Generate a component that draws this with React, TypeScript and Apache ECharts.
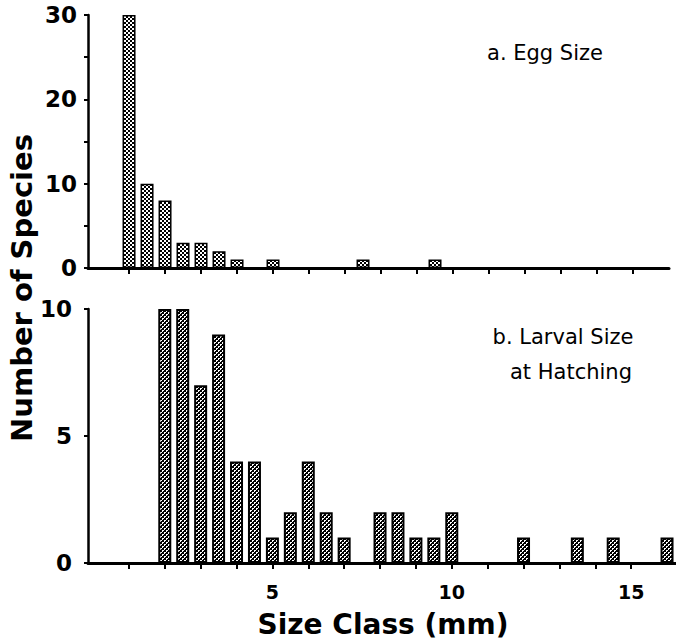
import React, { useEffect, useRef } from "react";
import * as echarts from "echarts";

// Panel a: egg size classes (mm) and number of species
const eggSizes = [1, 1.5, 2, 2.5, 3, 3.5, 4, 5, 7.5, 9.5];
const eggCounts = [30, 10, 8, 3, 3, 2, 1, 1, 1, 1];

// Panel b: larval size at hatching classes (mm) and number of species
const larvalSizes = [2, 2.5, 3, 3.5, 4, 4.5, 5, 5.5, 6, 6.5, 7, 8, 8.5, 9, 9.5, 10, 12, 13.5, 14.5, 16];
const larvalCounts = [10, 10, 7, 9, 4, 4, 1, 2, 4, 2, 1, 2, 2, 1, 1, 2, 1, 1, 1, 1];

// Tick and label values
const xTickValues = [1, 2, 3, 4, 5, 6, 7, 8, 9, 10, 11, 12, 13, 14, 15];
const xLabelValues = [5, 10, 15];
const eggYLabelValues = [0, 10, 20, 30];
const larvalYLabelValues = [0, 5, 10];

const FONT = "DejaVu Sans";

function makePattern(light: boolean): HTMLCanvasElement {
  const c = document.createElement("canvas");
  c.width = 4;
  c.height = 4;
  const ctx = c.getContext("2d")!;
  ctx.fillStyle = "#000";
  ctx.fillRect(0, 0, 4, 4);
  ctx.fillStyle = "#fff";
  if (light) {
    ctx.fillRect(0, 0, 2, 2);
    ctx.fillRect(2, 2, 2, 2);
  } else {
    ctx.fillRect(0, 0, 2, 1);
    ctx.fillRect(0, 1, 1, 1);
    ctx.fillRect(2, 2, 2, 1);
    ctx.fillRect(2, 3, 1, 1);
  }
  return c;
}

export default function App() {
  const ref = useRef<HTMLDivElement>(null);

  useEffect(() => {
    document.body.style.margin = "0";
    if (!ref.current) return;
    const chart = echarts.init(ref.current, undefined, { renderer: "svg" });

    const topPattern = { image: makePattern(true), repeat: "repeat" } as any;
    const botPattern = { image: makePattern(false), repeat: "repeat" } as any;

    const xAxisCommon = {
      type: "value" as const,
      min: -0.14,
      splitLine: { show: false },
      axisLine: { show: true, onZero: false, lineStyle: { color: "#000", width: 3 } },
      axisTick: {
        show: true,
        customValues: xTickValues,
        length: 6,
        inside: false,
        lineStyle: { color: "#000", width: 2 },
      },
    };

    const yAxisCommon = {
      type: "value" as const,
      min: 0,
      interval: 5,
      splitLine: { show: false },
      axisLine: { show: true, onZero: false, lineStyle: { color: "#000", width: 2.5 } },
      axisTick: { show: true, length: 4, lineStyle: { color: "#000", width: 2 } },
    };

    chart.setOption({
      animation: false,
      backgroundColor: "#fff",
      grid: [
        { left: 88, top: 15, width: 581, height: 253 },
        { left: 88, top: 309, width: 590, height: 254 },
      ],
      xAxis: [
        {
          ...xAxisCommon,
          gridIndex: 0,
          max: 16,
          axisLabel: { show: false },
        },
        {
          ...xAxisCommon,
          gridIndex: 1,
          max: 16.25,
          axisLabel: {
            show: true,
            customValues: xLabelValues,
            color: "#000",
            fontFamily: FONT,
            fontWeight: "bold",
            fontSize: 19,
            margin: 19,
          },
        },
      ],
      yAxis: [
        {
          ...yAxisCommon,
          gridIndex: 0,
          max: 30,
          axisLabel: {
            customValues: eggYLabelValues,
            color: "#000",
            fontFamily: FONT,
            fontWeight: "bold",
            fontSize: 23,
            margin: 11,
          },
        },
        {
          ...yAxisCommon,
          gridIndex: 1,
          max: 10,
          axisLabel: {
            customValues: larvalYLabelValues,
            color: "#000",
            fontFamily: FONT,
            fontWeight: "bold",
            fontSize: 23,
            margin: 16,
          },
        },
      ],
      series: [
        {
          name: "Egg Size",
          type: "bar",
          xAxisIndex: 0,
          yAxisIndex: 0,
          barWidth: 13,
          data: eggSizes.map((s, i) => [s, eggCounts[i]]),
          itemStyle: { color: topPattern, borderColor: "#000", borderWidth: 1.5 },
        },
        {
          name: "Larval Size at Hatching",
          type: "bar",
          xAxisIndex: 1,
          yAxisIndex: 1,
          barWidth: 13,
          data: larvalSizes.map((s, i) => [s, larvalCounts[i]]),
          itemStyle: { color: botPattern, borderColor: "#000", borderWidth: 2 },
        },
      ],
      graphic: [
        {
          type: "text",
          x: 545,
          y: 53,
          style: {
            text: "a. Egg Size",
            fill: "#000",
            font: `21px "${FONT}"`,
            textAlign: "center",
            textVerticalAlign: "middle",
          },
        },
        {
          type: "text",
          x: 563,
          y: 337,
          style: {
            text: "b. Larval Size",
            fill: "#000",
            font: `21px "${FONT}"`,
            textAlign: "center",
            textVerticalAlign: "middle",
          },
        },
        {
          type: "text",
          x: 571,
          y: 372,
          style: {
            text: "at Hatching",
            fill: "#000",
            font: `21px "${FONT}"`,
            textAlign: "center",
            textVerticalAlign: "middle",
          },
        },
        {
          type: "text",
          x: 383,
          y: 624,
          style: {
            text: "Size Class (mm)",
            fill: "#000",
            font: `bold 28px "${FONT}"`,
            textAlign: "center",
            textVerticalAlign: "middle",
          },
        },
        {
          type: "text",
          x: 22,
          y: 288,
          rotation: Math.PI / 2,
          style: {
            text: "Number of Species",
            fill: "#000",
            font: `bold 29px "${FONT}"`,
            textAlign: "center",
            textVerticalAlign: "middle",
          },
        },
      ],
    });

    return () => chart.dispose();
  }, []);

  return <div ref={ref} style={{ width: 676, height: 641 }} />;
}
